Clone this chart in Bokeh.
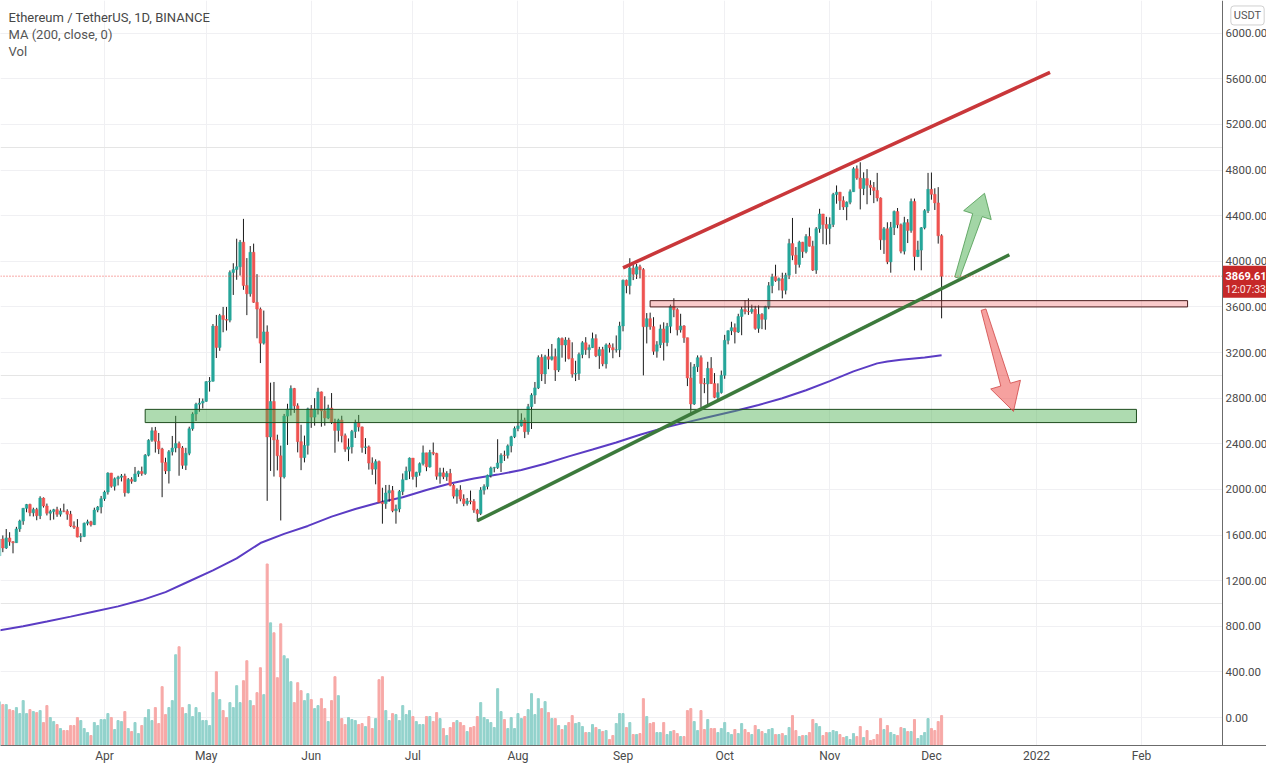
import math
import pandas as pd
from bokeh.plotting import figure
from bokeh.models import (Range1d, FixedTicker, NumeralTickFormatter, CustomJSTickFormatter,
                          Label, ColumnDataSource, LinearAxis, Grid)
from bokeh.embed import file_html
from bokeh.resources import INLINE

# ---------------- data (ETH/USDT daily, Binance) ----------------
first_date = "2021-03-01"
first_open = 1417

close = [
    # Mar
    1565, 1487, 1575, 1541, 1533, 1654, 1723, 1834, 1868, 1795, 1825, 1770, 1924, 1855, 1791, 1806,
    1823, 1782, 1812, 1809, 1783, 1680, 1669, 1582, 1588, 1703, 1716, 1691, 1819, 1846, 1919,
    # Apr
    1977, 2143, 2028, 2093, 2107, 2118, 1971, 2088, 2072, 2136, 2157, 2139, 2299, 2432, 2514, 2422,
    2355, 2237, 2162, 2330, 2363, 2402, 2364, 2211, 2317, 2533, 2661, 2747, 2757, 2772,
    # May
    2945, 2949, 3432, 3245, 3524, 3490, 3484, 3902, 3927, 3952, 4168, 3788, 3715, 4079, 3640, 3581,
    3282, 3381, 2460, 2771, 2434, 2295, 2110, 2643, 2705, 2885, 2733, 2419, 2279, 2386, 2707,
    # Jun
    2634, 2706, 2855, 2689, 2627, 2713, 2590, 2517, 2608, 2471, 2353, 2372, 2508, 2587, 2548, 2368,
    2373, 2231, 2178, 2244, 1888, 1875, 1969, 1990, 1813, 1829, 1982, 2085, 2160, 2275,
    # Jul
    2113, 2150, 2226, 2321, 2198, 2324, 2316, 2116, 2146, 2111, 2140, 2036, 1941, 1995, 1917, 1876,
    1899, 1895, 1819, 1788, 1994, 2026, 2124, 2188, 2191, 2232, 2300, 2299, 2382, 2462, 2534,
    # Aug
    2557, 2608, 2506, 2725, 2827, 2890, 3157, 3012, 3163, 3141, 3164, 3047, 3323, 3266, 3310, 3148,
    3011, 3017, 3183, 3286, 3225, 3243, 3322, 3172, 3226, 3101, 3267, 3243, 3223, 3225, 3433,
    # Sep
    3834, 3787, 3940, 3887, 3952, 3927, 3427, 3497, 3427, 3211, 3268, 3407, 3288, 3430, 3606, 3576,
    3399, 3433, 3330, 2977, 2749, 3075, 3155, 2929, 2925, 3061, 2928, 2807, 2849, 3001,
    # Oct
    3307, 3391, 3418, 3380, 3516, 3577, 3560, 3558, 3579, 3412, 3535, 3491, 3604, 3786, 3865, 3830,
    3847, 3746, 3878, 4155, 4053, 3972, 4168, 4085, 4217, 4132, 3923, 4286, 4415, 4322, 4288,
    # Nov
    4323, 4585, 4606, 4531, 4477, 4518, 4610, 4811, 4730, 4638, 4725, 4667, 4647, 4621, 4555, 4188,
    4285, 3995, 4297, 4436, 4320, 4089, 4339, 4271, 4524, 4042, 4098, 4294, 4444, 4631,
    # Dec
    4587, 4512, 4224, 3869.61,
]

high = [
    1580, 1597, 1653, 1625, 1547, 1672, 1735, 1838, 1873, 1875, 1840, 1839, 1940, 1930, 1876, 1822,
    1830, 1848, 1835, 1875, 1826, 1812, 1720, 1740, 1616, 1710, 1735, 1725, 1840, 1855, 1943,
    1990, 2150, 2145, 2105, 2120, 2135, 2138, 2100, 2107, 2197, 2165, 2200, 2310, 2440, 2545, 2548,
    2495, 2365, 2278, 2345, 2469, 2645, 2420, 2380, 2365, 2550, 2676, 2760, 2800, 2797,
    2950, 2985, 3450, 3530, 3539, 3600, 3600, 3920, 3983, 4198, 4187, 4372, 4028, 4134, 4155, 3887,
    3595, 3568, 3438, 2936, 2942, 2480, 2384, 2662, 2751, 2912, 2890, 2755, 2567, 2472, 2717,
    2740, 2800, 2891, 2858, 2817, 2743, 2845, 2620, 2620, 2646, 2490, 2447, 2522, 2612, 2653, 2551,
    2450, 2385, 2281, 2264, 2253, 2015, 2039, 2040, 2030, 1867, 1995, 2140, 2200, 2280,
    2275, 2155, 2237, 2385, 2321, 2347, 2411, 2321, 2190, 2190, 2160, 2180, 2048, 2010, 2037, 1957,
    1925, 1990, 1915, 1830, 2020, 2045, 2130, 2200, 2198, 2440, 2317, 2340, 2395, 2470, 2552,
    2700, 2667, 2629, 2750, 2843, 2942, 3175, 3185, 3180, 3232, 3275, 3235, 3333, 3332, 3335, 3330,
    3290, 3128, 3200, 3300, 3335, 3270, 3375, 3360, 3250, 3250, 3280, 3285, 3280, 3350, 3470,
    3840, 3840, 4027, 3970, 3977, 3970, 3940, 3546, 3550, 3510, 3300, 3445, 3465, 3460, 3620, 3676,
    3589, 3540, 3440, 3330, 3115, 3100, 3175, 3175, 2976, 3119, 3160, 3020, 2930, 3042,
    3355, 3395, 3470, 3455, 3540, 3600, 3660, 3675, 3620, 3610, 3614, 3545, 3610, 3818, 3891, 3970,
    3858, 3900, 3899, 4197, 4380, 4125, 4180, 4170, 4238, 4295, 4180, 4300, 4460, 4415, 4390,
    4385, 4600, 4665, 4608, 4570, 4525, 4630, 4825, 4840, 4868, 4780, 4808, 4710, 4695, 4775, 4560,
    4300, 4342, 4345, 4445, 4467, 4331, 4390, 4370, 4550, 4550, 4180, 4300, 4457, 4775,
    4778, 4640, 4650, 4237,
]

low = [
    1411, 1450, 1478, 1506, 1440, 1532, 1628, 1690, 1800, 1765, 1763, 1730, 1740, 1841, 1772, 1730,
    1736, 1760, 1762, 1800, 1734, 1670, 1654, 1580, 1540, 1582, 1685, 1675, 1688, 1800, 1790,
    1900, 1955, 2015, 1990, 2035, 2070, 1937, 1965, 2050, 2065, 2110, 2120, 2128, 2290, 2418, 2323,
    2310, 1932, 2135, 2052, 2298, 2325, 2120, 2180, 2170, 2300, 2515, 2600, 2681, 2710,
    2767, 2858, 2945, 3152, 3215, 3378, 3393, 3465, 3705, 3838, 3875, 3750, 3528, 3690, 3636, 3325,
    3108, 3270, 1900, 2162, 2113, 2167, 1728, 2096, 2390, 2648, 2671, 2325, 2169, 2237, 2306,
    2540, 2559, 2657, 2550, 2559, 2616, 2573, 2322, 2420, 2412, 2330, 2248, 2315, 2451, 2508, 2322,
    2310, 2174, 2128, 2045, 1880, 1700, 1830, 1892, 1800, 1700, 1800, 1950, 2083, 2091,
    2086, 2019, 2120, 2210, 2160, 2191, 2300, 2085, 2050, 2090, 2075, 2027, 1920, 1875, 1896, 1853,
    1858, 1870, 1795, 1718, 1775, 1955, 2001, 2104, 2150, 2180, 2153, 2250, 2271, 2325, 2450,
    2510, 2550, 2450, 2480, 2530, 2750, 2880, 2950, 2925, 3054, 3130, 2951, 3030, 3155, 3120, 3140,
    2980, 2950, 2960, 3150, 3180, 3150, 3240, 3160, 3057, 3080, 3060, 3200, 3150, 3200, 3160,
    3386, 3720, 3710, 3835, 3845, 3850, 3000, 3280, 3400, 3180, 3155, 3240, 3130, 3255, 3370, 3510,
    3350, 3375, 3285, 2906, 2650, 2740, 3030, 2720, 2844, 2740, 2925, 2800, 2783, 2840,
    2970, 3272, 3353, 3280, 3372, 3352, 3535, 3530, 3540, 3400, 3373, 3405, 3400, 3580, 3720, 3820,
    3745, 3675, 3710, 3844, 4010, 3890, 3945, 4030, 4070, 4130, 3915, 3890, 4250, 4150, 4145,
    4150, 4300, 4505, 4450, 4450, 4360, 4500, 4610, 4715, 4455, 4580, 4500, 4580, 4510, 4525, 4100,
    4065, 3975, 3900, 4230, 4290, 4070, 4060, 4160, 4250, 3920, 4037, 3921, 4280, 4423,
    4540, 4450, 4155, 3500,
]

# volume, thousand ETH
volume_k = [
    1500, 1410, 1410, 1260, 1230, 1320, 1140, 1530, 1140, 1260, 1200, 1170, 1230, 870, 1380, 1020,
    900, 810, 690, 630, 630, 780, 780, 1020, 930, 690, 570, 480, 870, 780, 960,
    960, 1140, 1020, 660, 930, 900, 1200, 690, 600, 870, 540, 780, 1020, 1260, 930, 1320,
    840, 1950, 1110, 1320, 1530, 2910, 3150, 1320, 1140, 1410, 1050, 1320, 1170, 930,
    930, 780, 1770, 2400, 1560, 1230, 1020, 1470, 1320, 1980, 1470, 2130, 2730, 1530, 1380, 1770,
    2520, 1710, 5640, 3870, 3570, 2220, 3840, 2880, 2790, 2100, 1470, 2070, 1830, 1530, 1740,
    1560, 1290, 1380, 1590, 1290, 900, 1530, 2250, 1680, 990, 810, 1020, 960, 930, 810, 840,
    750, 1050, 690, 990, 2160, 2250, 1230, 930, 1140, 1110, 930, 1380, 1110, 1230,
    1050, 900, 810, 810, 1050, 1050, 900, 1170, 990, 690, 480, 720, 870, 930, 870, 780,
    600, 720, 750, 1050, 1470, 1020, 960, 870, 720, 1890, 1200, 960, 690, 1020, 690,
    1140, 990, 1050, 1260, 1740, 1110, 1590, 1290, 1500, 1170, 990, 990, 780, 660, 780, 870,
    1080, 840, 870, 750, 570, 570, 810, 720, 660, 600, 630, 360, 480, 840, 1140,
    1140, 720, 870, 510, 510, 540, 1590, 1050, 840, 870, 570, 570, 870, 510, 600, 630,
    540, 450, 450, 1230, 1290, 900, 630, 1230, 660, 960, 690, 690, 570, 690,
    870, 570, 510, 660, 540, 840, 660, 570, 510, 780, 660, 600, 540, 660, 690, 510,
    510, 540, 480, 720, 1080, 630, 450, 480, 480, 570, 960, 840, 750, 480, 570,
    570, 630, 600, 510, 420, 450, 360, 540, 450, 750, 420, 630, 330, 360, 510, 990,
    660, 780, 570, 510, 480, 720, 690, 600, 600, 960, 390, 480, 570, 990,
    690, 630, 900, 1080,
]

# MA(200, close) values
ma_dates = ["2021-03-01", "2021-03-08", "2021-03-15", "2021-03-22", "2021-03-29", "2021-04-05",
            "2021-04-12", "2021-04-19", "2021-04-26", "2021-05-03", "2021-05-10", "2021-05-17",
            "2021-05-24", "2021-05-31", "2021-06-07", "2021-06-14", "2021-06-21", "2021-06-28",
            "2021-07-05", "2021-07-12", "2021-07-19", "2021-07-26", "2021-08-02", "2021-08-09",
            "2021-08-16", "2021-08-23", "2021-08-30", "2021-09-06", "2021-09-13", "2021-09-20",
            "2021-09-27", "2021-10-04", "2021-10-11", "2021-10-18", "2021-10-25", "2021-11-01",
            "2021-11-08", "2021-11-15", "2021-11-18", "2021-11-22", "2021-11-29", "2021-12-04"]
ma_values = [764, 800, 842, 885, 930, 975,
             1030, 1100, 1195, 1290, 1395, 1530,
             1610, 1680, 1762, 1828, 1885, 1932,
             1995, 2052, 2095, 2130, 2170, 2225,
             2290, 2350, 2412, 2480, 2540, 2590,
             2640, 2688, 2740, 2800, 2870, 2950,
             3035, 3105, 3122, 3136, 3157, 3176]

last_price = 3869.61
countdown = "12:07:33"
month_ticks = ["2021-03-01", "2021-04-01", "2021-05-01", "2021-06-01", "2021-07-01", "2021-08-01",
               "2021-09-01", "2021-10-01", "2021-11-01", "2021-12-01", "2022-01-01", "2022-02-01"]
price_ticks = [0, 400, 800, 1200, 1600, 2000, 2400, 2800, 3200, 3600, 4000, 4400, 4800, 5200, 5600, 6000]

# drawings (date, price anchors)
green_zone = dict(left="2021-04-13", right="2022-01-30 12:00", bottom=2586, top=2702)
pink_zone = dict(left="2021-09-09", right="2022-02-14 14:00", bottom=3600, top=3655)
red_trend = dict(x=["2021-09-01", "2022-01-05"], y=[3943, 5657])
green_trend = dict(x=["2021-07-20", "2021-12-24"], y=[1725, 4057])
up_arrow = dict(tail=("2021-12-08 14:00", 3856), tip=("2021-12-16 16:00", 4596))
down_arrow = dict(tail=("2021-12-16 09:00", 3576), tip=("2021-12-25 05:00", 2684))

# ---------------- build ----------------
DAY = 86400000.0
UP, DOWN = "#26a69a", "#ef5350"
VUP, VDOWN = "#92d2cc", "#f7a9a7"

def ms(d):
    return pd.Timestamp(d).value / 1e6

dates = pd.date_range(first_date, periods=len(close), freq="D")
open_ = [first_open] + close[:-1]
up = [c >= o for o, c in zip(open_, close)]
src = ColumnDataSource(dict(
    date=dates, open=open_, high=high, low=low, close=close,
    top=[max(o, c) for o, c in zip(open_, close)],
    bottom=[min(o, c) for o, c in zip(open_, close)],
    color=[UP if u else DOWN for u in up],
    vcolor=[VUP if u else VDOWN for u in up],
    vol=volume_k,
))

x_start = ms("2021-03-01 07:27")
x_end = ms("2022-03-09 20:53")
axis_x = ms("2022-02-24 21:20")      # where the price scale begins
y_lo, y_hi = -244.8, 6286.3

p = figure(width=1266, height=765, x_axis_type="datetime", y_axis_location=None,
           x_range=Range1d(x_start, x_end), y_range=Range1d(y_lo, y_hi),
           output_backend="svg", toolbar_location=None,
           min_border_left=0, min_border_top=0, min_border_right=0, min_border_bottom=18)
p.outline_line_color = None
p.background_fill_color = "white"
p.border_fill_color = "white"
p.extra_y_ranges = {"vol": Range1d(180, 22590)}

# time axis
tick_ms = [ms(d) for d in month_ticks]
p.xaxis.ticker = FixedTicker(ticks=tick_ms)
p.xaxis.formatter = CustomJSTickFormatter(code="""
const d = new Date(tick);
const m = d.getUTCMonth();
const names = ["Jan","Feb","Mar","Apr","May","Jun","Jul","Aug","Sep","Oct","Nov","Dec"];
return m === 0 ? String(d.getUTCFullYear()) : names[m];
""")
xa = p.xaxis[0]
xa.major_tick_out = 0
xa.major_tick_in = 0
xa.minor_tick_out = 0
xa.minor_tick_in = 0
xa.axis_line_color = "#6b6b6b"
xa.major_label_text_font = "Roboto"
xa.major_label_text_font_size = "12px"
xa.major_label_text_color = "#4a4a4a"
xa.major_label_standoff = 3

p.xgrid.ticker = FixedTicker(ticks=tick_ms)
p.xgrid.grid_line_color = "#f0f0f3"
p.add_layout(Grid(dimension=1, ticker=FixedTicker(ticks=price_ticks), grid_line_color="#f0f0f3"))

# volume
p.vbar(x="date", width=0.6 * DAY, top="vol", bottom=0, source=src, y_range_name="vol",
       fill_color="vcolor", line_color="vcolor")

# MA 200
p.line(x=pd.to_datetime(ma_dates), y=ma_values, line_color="#5b3cc4", line_width=2)

# candles
p.segment(x0="date", y0="low", x1="date", y1="high", source=src, line_color="#1a1a1a", line_width=1)
p.vbar(x="date", width=0.78 * DAY, top="top", bottom="bottom", source=src,
       fill_color="color", line_color="color", line_width=0.5)

# zones
p.quad(left=[ms(green_zone["left"])], right=[ms(green_zone["right"])],
       bottom=[green_zone["bottom"]], top=[green_zone["top"]],
       fill_color="#4caf50", fill_alpha=0.45, line_color="#1f4d1f", line_width=1)
p.quad(left=[ms(pink_zone["left"])], right=[ms(pink_zone["right"])],
       bottom=[pink_zone["bottom"]], top=[pink_zone["top"]],
       fill_color="#f06a6a", fill_alpha=0.35, line_color="#4a1c1c", line_width=1)

# trend lines
p.line(x=pd.to_datetime(red_trend["x"]), y=red_trend["y"], line_color="#c9373a", line_width=3.5)
p.line(x=pd.to_datetime(green_trend["x"]), y=green_trend["y"], line_color="#3c7a3c", line_width=3.5)

# arrows (shape built in pixel space from the anchor points)
PXD = 3.389 / DAY
PXP = 747 / (y_hi - y_lo)

def arrow_shape(tail, tip, w_tail, w_neck, w_head, head_len):
    x0, y0 = ms(tail[0]) * PXD, tail[1] * PXP
    x1, y1 = ms(tip[0]) * PXD, tip[1] * PXP
    dx, dy = x1 - x0, y1 - y0
    L = math.hypot(dx, dy)
    ux, uy = dx / L, dy / L
    nx, ny = -uy, ux
    kx, ky = x1 - ux * head_len, y1 - uy * head_len
    pts = [(x0 + nx * w_tail / 2, y0 + ny * w_tail / 2),
           (kx + nx * w_neck / 2, ky + ny * w_neck / 2),
           (kx + nx * w_head / 2, ky + ny * w_head / 2),
           (x1, y1),
           (kx - nx * w_head / 2, ky - ny * w_head / 2),
           (kx - nx * w_neck / 2, ky - ny * w_neck / 2),
           (x0 - nx * w_tail / 2, y0 - ny * w_tail / 2)]
    return [a / PXD for a, b in pts], [b / PXP for a, b in pts]

gx, gy = arrow_shape(up_arrow["tail"], up_arrow["tip"], 5, 10, 29, 23)
p.patch(gx, gy, fill_color="#66bb6a", fill_alpha=0.6, line_color="#4c9a50", line_alpha=0.8, line_width=1)
rx, ry = arrow_shape(down_arrow["tail"], down_arrow["tip"], 5, 10, 31, 28)
p.patch(rx, ry, fill_color="#ef5350", fill_alpha=0.55, line_color="#d04545", line_alpha=0.8, line_width=1)

# last price dotted line
p.segment(x0=[x_start], x1=[axis_x], y0=[last_price], y1=[last_price],
          line_color="#ef5350", line_dash="1 2", line_width=1)

# price-scale area (white panel), scale, badge and price box
p.quad(left=[axis_x], right=[x_end + DAY], bottom=[y_lo - 500], top=[y_hi + 500],
       fill_color="white", line_color=None)
ya = LinearAxis(fixed_location=axis_x, ticker=FixedTicker(ticks=price_ticks),
                formatter=NumeralTickFormatter(format="0.00"))
ya.major_tick_out = 0
ya.major_tick_in = 0
ya.minor_tick_out = 0
ya.minor_tick_in = 0
ya.axis_line_color = "#6b6b6b"
ya.major_label_text_font = "Roboto"
ya.major_label_text_font_size = "11.5px"
ya.major_label_text_color = "#4a4a4a"
ya.major_label_standoff = 3
p.add_layout(ya, "right")

p.quad(left=[axis_x], right=[x_end + DAY], bottom=[3681], top=[3961],
       fill_color="#c62828", line_color=None)
p.add_layout(Label(x=axis_x, y=last_price, x_offset=3, y_offset=0, text="3869.61",
                   text_font="Roboto", text_font_size="11px", text_font_style="bold",
                   text_color="white", text_align="left", text_baseline="middle"))
p.add_layout(Label(x=axis_x, y=last_price, x_offset=3, y_offset=-13, text=countdown,
                   text_font="Roboto", text_font_size="10.5px",
                   text_color="#fde8e8", text_align="left", text_baseline="middle"))
p.add_layout(Label(x=axis_x, y=6155, x_offset=25, text="USDT",
                   text_font="Roboto", text_font_size="11px", text_color="#555555",
                   text_align="center", text_baseline="middle",
                   background_fill_color="white", border_line_color="#d0d0d0",
                   border_radius=3, padding=3))

# legend texts (top-left)
p.add_layout(Label(x=x_start, y=6140, x_offset=8, text="Ethereum / TetherUS, 1D, BINANCE",
                   text_font="Roboto", text_font_size="13px", text_color="#474747",
                   text_baseline="middle", text_align="left"))
p.add_layout(Label(x=x_start, y=5986, x_offset=8, text="MA (200, close, 0)",
                   text_font="Roboto", text_font_size="13px", text_color="#555555",
                   text_baseline="middle", text_align="left"))
p.add_layout(Label(x=x_start, y=5843, x_offset=8, text="Vol",
                   text_font="Roboto", text_font_size="13px", text_color="#555555",
                   text_baseline="middle", text_align="left"))

open("out.html", "w").write(file_html(p, INLINE))
